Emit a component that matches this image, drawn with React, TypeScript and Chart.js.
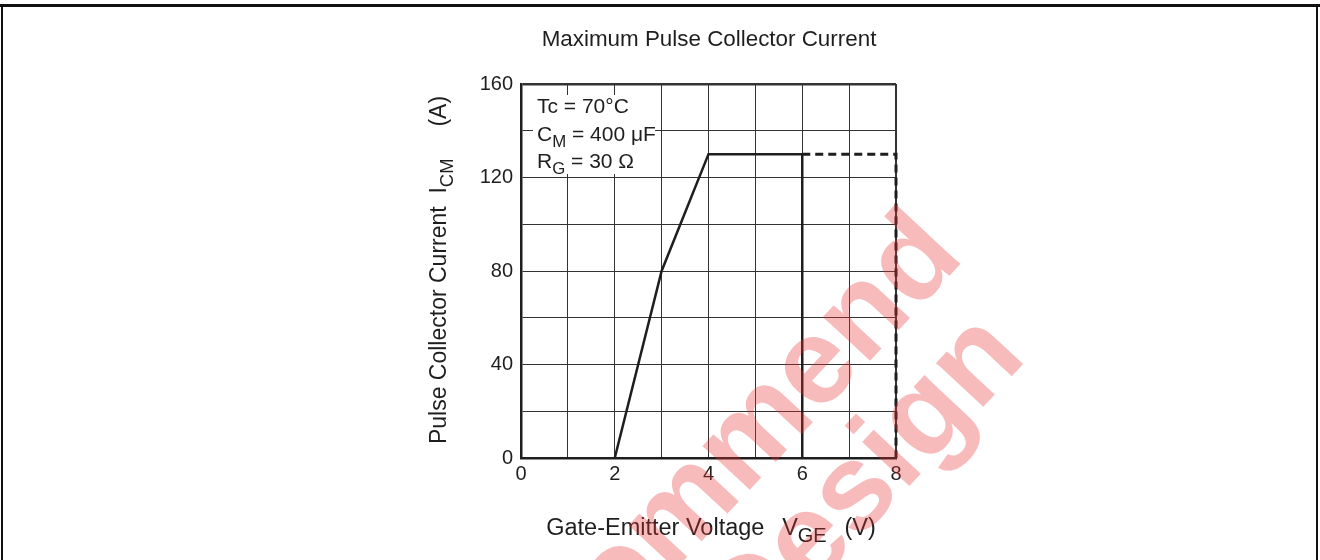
import React, { useEffect, useRef } from "react";
import { Chart, registerables } from "chart.js";

Chart.register(...registerables);

// ---- data ----
const solidX = [2, 3, 4, 6, 6];
const solidY = [0, 80, 130, 130, 0];
const dashedX = [6, 8, 8];
const dashedY = [130, 130, 0];
const xTickValues = [0, 2, 4, 6, 8];
const yTickValues = [0, 40, 80, 120, 160];
const chartTitle = "Maximum Pulse Collector Current";
const xTitleParts: [string, boolean][] = [["Gate-Emitter Voltage  \u2009V", false], ["GE", true], ["  \u2009(V)", false]];
const yTitleParts: [string, boolean][] = [["Pulse Collector Current  I", false], ["CM", true], ["     (A)", false]];
const noteLines: [string, boolean][][] = [
  [["Tc = 70°C", false]],
  [["C", false], ["M", true], [" = 400 μF", false]],
  [["R", false], ["G", true], [" = 30 Ω", false]],
];
const watermarkLines = ["Not Recommend", "for New Design"];

const FONT = '"Liberation Sans", Arial, Helvetica, sans-serif';
const INK = "#1e1e1e";

function richWidth(ctx: CanvasRenderingContext2D, parts: [string, boolean][], size: number, subScale: number) {
  let w = 0;
  for (const [t, sub] of parts) {
    ctx.font = `${sub ? size * subScale : size}px ${FONT}`;
    w += ctx.measureText(t).width;
  }
  return w;
}

function drawRich(
  ctx: CanvasRenderingContext2D,
  parts: [string, boolean][],
  x: number,
  y: number,
  size: number,
  align: "left" | "center",
  subScale = 0.8
) {
  const w = richWidth(ctx, parts, size, subScale);
  let cx = align === "center" ? x - w / 2 : x;
  ctx.textAlign = "left";
  ctx.textBaseline = "alphabetic";
  for (const [t, sub] of parts) {
    ctx.font = `${sub ? size * subScale : size}px ${FONT}`;
    ctx.fillText(t, cx, sub ? y + size * 0.3 : y);
    cx += ctx.measureText(t).width;
  }
}

const overlayPlugin = {
  id: "overlay",
  beforeDatasetsDraw(chart: any) {
    const ctx: CanvasRenderingContext2D = chart.ctx;
    ctx.save();
    ctx.fillStyle = "#ffffff";
    ctx.fillRect(533, 95, 122, 79);
    ctx.fillStyle = INK;
    drawRich(ctx, noteLines[0], 537, 113, 21, "left");
    drawRich(ctx, noteLines[1], 537, 141, 21, "left");
    drawRich(ctx, noteLines[2], 537, 168, 21, "left");
    ctx.restore();
  },
  afterDraw(chart: any) {
    const ctx: CanvasRenderingContext2D = chart.ctx;
    ctx.save();
    // outer frame
    ctx.fillStyle = "#111";
    ctx.fillRect(0, 4, 1320, 3);
    ctx.fillRect(1, 4, 2, 556);
    ctx.fillRect(1316, 4, 2, 556);
    // title
    ctx.fillStyle = INK;
    ctx.font = `22.4px ${FONT}`;
    ctx.textAlign = "center";
    ctx.textBaseline = "alphabetic";
    ctx.fillText(chartTitle, 709, 46);
    // x title
    drawRich(ctx, xTitleParts, 711, 535, 23.5, "center", 0.85);
    // y title
    ctx.save();
    ctx.translate(446, 270);
    ctx.rotate(-Math.PI / 2);
    drawRich(ctx, yTitleParts, 0, 0, 23, "center", 0.8);
    ctx.restore();
    // watermark
    const th = (-47 * Math.PI) / 180;
    ctx.font = `bold 122px ${FONT}`;
    ctx.fillStyle = "rgba(235,50,50,0.33)";
    ctx.translate(966, 258);
    ctx.rotate(th);
    ctx.textAlign = "right";
    ctx.fillText(watermarkLines[0], 0, 0);
    ctx.fillText(watermarkLines[1], -31, 114);
    ctx.restore();
  },
};

export default function App() {
  const ref = useRef<HTMLCanvasElement | null>(null);
  useEffect(() => {
    if (!ref.current) return;
    const chart = new Chart(ref.current, {
      type: "scatter",
      data: {
        datasets: [
          {
            data: solidX.map((x, i) => ({ x, y: solidY[i] })),
            showLine: true,
            borderColor: INK,
            borderWidth: 2.5,
            pointRadius: 0,
            fill: false,
            clip: 6,
          } as any,
          {
            data: dashedX.map((x, i) => ({ x, y: dashedY[i] })),
            showLine: true,
            borderColor: INK,
            borderWidth: 3,
            borderDash: [8, 5],
            pointRadius: 0,
            fill: false,
            clip: 6,
          } as any,
        ],
      },
      options: {
        responsive: false,
        animation: false,
        events: [],
        layout: { padding: { left: 0, right: 424, top: 84, bottom: 0 } },
        plugins: { legend: { display: false }, tooltip: { enabled: false }, title: { display: false } },
        scales: {
          x: {
            type: "linear",
            min: 0,
            max: 8,
            afterFit: (s: any) => {
              s.height = 102;
            },
            ticks: {
              stepSize: 1,
              autoSkip: false,
              maxRotation: 0,
              padding: 4,
              color: INK,
              font: { family: FONT, size: 20 },
              callback: (v: any) => (xTickValues.includes(Number(v)) ? String(v) : ""),
            },
            grid: {
              drawTicks: false,
              color: "#333333",
              lineWidth: (c: any) => (c.tick && c.tick.value === 8 ? 2 : 1),
            },
            border: { display: true, color: INK, width: 2.5 },
          },
          y: {
            type: "linear",
            min: 0,
            max: 160,
            afterFit: (s: any) => {
              s.width = 521;
            },
            ticks: {
              stepSize: 20,
              autoSkip: false,
              padding: 8,
              color: INK,
              font: { family: FONT, size: 20 },
              callback: (v: any) => (yTickValues.includes(Number(v)) ? String(v) : ""),
            },
            grid: {
              drawTicks: false,
              color: "#333333",
              lineWidth: (c: any) => (c.tick && c.tick.value === 160 ? 2.5 : 1),
            },
            border: { display: true, color: INK, width: 2.5 },
          },
        },
      },
      plugins: [overlayPlugin],
    });
    return () => chart.destroy();
  }, []);
  return (
    <div style={{ position: "fixed", left: 0, top: 0, width: 1320, height: 560, background: "#fff" }}>
      <canvas ref={ref} width={1320} height={560} style={{ display: "block" }} />
    </div>
  );
}
